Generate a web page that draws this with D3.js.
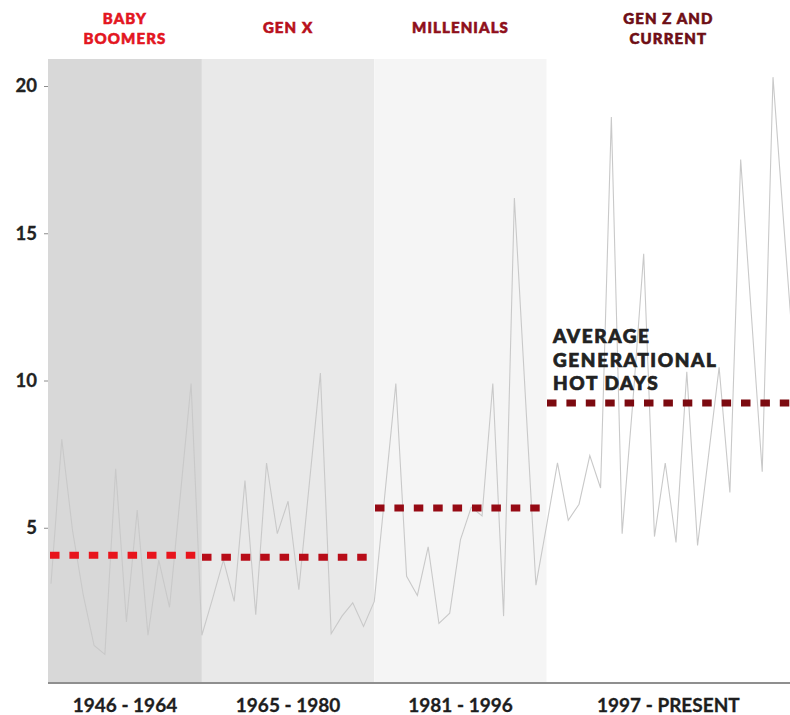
<!DOCTYPE html>
<html>
<head>
<meta charset="utf-8">
<script src="https://cdn.jsdelivr.net/npm/d3@7"></script>
<style>
  html, body { margin: 0; padding: 0; background: #fff; }
  #graph { width: 790px; height: 715px; }
  text { font-family: Lato, "Open Sans", sans-serif; }
</style>
</head>
<body>
<div id="graph"></div>
<script>
//----------------------------------------------------------
// data

// hot days per year, one value a year from 1950
var g_first_year = 1950;
var g_hot_days = [
    3.1, 8.0, 4.9, 2.7, 1.0, 0.7, 7.0, 1.8, 5.6, 1.35,
    3.9, 2.3, 6.1, 9.9, 1.35, 2.6, 3.9, 2.5, 6.6, 2.05,
    7.2, 4.8, 5.9, 2.9, 6.6, 10.25, 1.4, 2.0, 2.45, 1.65,
    2.5, 6.2, 9.9, 3.35, 2.7, 4.35, 1.75, 2.1, 4.6, 5.7,
    5.4, 9.9, 2.0, 16.2, 9.6, 3.05, 5.1, 7.2, 5.25, 5.8,
    7.45, 6.35, 18.95, 4.8, 9.3, 14.3, 4.7, 7.2, 4.5, 10.3,
    4.4, 7.4, 10.45, 6.2, 17.5, 12.2, 6.9, 20.3, 15.3, 10.4
];

// generations
var g_gen_names = [["BABY", "BOOMERS"], ["GEN X"], ["MILLENIALS"], ["GEN Z AND", "CURRENT"]];
var g_gen_ranges = ["1946 - 1964", "1965 - 1980", "1981 - 1996", "1997 - PRESENT"];
var g_gen_breaks = [1964, 1980, 1996];
var g_gen_averages = [4.07, 4.0, 5.67, 9.24];

var g_y_ticks = [5, 10, 15, 20];
var g_average_label = ["AVERAGE", "GENERATIONAL", "HOT DAYS"];

// styles
var g_band_fill = ["#d8d8d8", "#e9e9e9", "#f5f5f5", "#ffffff"];
var g_name_colour = ["#e3161f", "#b8101c", "#8f0f1b", "#6e0e15"];
var g_dash_colour = ["#e8141c", "#b80c18", "#960a14", "#7c0a10"];


//----------------------------------------------------------
var g_width = 790;
var g_height = 715;
var g_plot_left = 48;
var g_plot_top = 59;
var g_plot_bottom = 683;

var g_svg = d3.select("#graph")
  .append("svg")
    .attr("width", g_width)
    .attr("height", g_height);

var g_x = d3.scaleLinear()
    .domain([g_first_year, g_first_year + 67])
    .range([51, 773]);

var g_y = d3.scaleLinear()
    .domain([0, 20])
    .range([675, 86]);


//----------------------------------------------------------
function BandEdges() {
    var edges = [g_plot_left];
    g_gen_breaks.forEach(function (year) {
        edges.push(g_x(year));
    });
    edges.push(g_width);
    return edges;
}


function DrawBands(edges) {
    g_svg
      .append("g")
      .selectAll("rect")
      .data(g_gen_names)
      .join("rect")
        .attr("x", function (d, i) { return edges[i]; })
        .attr("y", g_plot_top)
        .attr("width", function (d, i) { return edges[i + 1] - edges[i]; })
        .attr("height", g_plot_bottom - g_plot_top)
        .attr("fill", function (d, i) { return g_band_fill[i]; });
}


function DrawNames(edges) {
    var names = g_svg
      .append("g")
      .selectAll("text")
      .data(g_gen_names)
      .join("text")
        .attr("text-anchor", "middle")
        .attr("font-size", 15)
        .attr("font-weight", 900)
        .attr("letter-spacing", 1.1)
        .attr("fill", function (d, i) { return g_name_colour[i]; })
        .attr("stroke", function (d, i) { return g_name_colour[i]; })
        .attr("stroke-width", 0.6)
        .attr("transform", function (d, i) {
            var cx = (edges[i] + edges[i + 1]) / 2;
            return "translate(" + cx + "," + (d.length > 1 ? 24 : 33) + ")";
        });

    names
      .selectAll("tspan")
      .data(function (d) { return d; })
      .join("tspan")
        .attr("x", 0)
        .attr("y", function (d, i) { return i * 20; })
        .text(function (d) { return d; });
}


function DrawAxes(edges) {
    var y_axis = d3.axisLeft(g_y)
        .tickValues(g_y_ticks)
        .tickSize(4)
        .tickPadding(7);

    var gy = g_svg
      .append("g")
        .attr("transform", "translate(" + g_plot_left + ",0)")
        .call(y_axis);

    gy.select(".domain").remove();
    gy.selectAll("line").attr("stroke", "#8c8c8c");
    gy.selectAll("text")
        .attr("font-size", 18.5)
        .attr("font-weight", 700)
        .attr("fill", "#222")
        .attr("stroke", "#222")
        .attr("stroke-width", 0.3)
        .attr("font-family", "Lato, sans-serif");

    g_svg
      .append("line")
        .attr("x1", g_plot_left)
        .attr("x2", g_width)
        .attr("y1", g_plot_bottom)
        .attr("y2", g_plot_bottom)
        .attr("stroke", "#8f8f8f")
        .attr("stroke-width", 2);

    g_svg
      .append("g")
      .selectAll("text")
      .data(g_gen_ranges)
      .join("text")
        .attr("x", function (d, i) { return (edges[i] + edges[i + 1]) / 2; })
        .attr("y", 712)
        .attr("text-anchor", "middle")
        .attr("font-size", 19)
        .attr("font-weight", 700)
        .attr("fill", "#1e1e1e")
        .attr("stroke", "#1e1e1e")
        .attr("stroke-width", 0.3)
        .text(function (d) { return d; });
}


function DrawLine() {
    var line = d3.line()
        .x(function (d, i) { return g_x(g_first_year + i); })
        .y(function (d) { return g_y(d); });

    g_svg
      .append("path")
        .datum(g_hot_days)
        .attr("d", line)
        .attr("fill", "none")
        .attr("stroke", "#c9c9c9")
        .attr("stroke-width", 1.1)
        .attr("stroke-linejoin", "miter");
}


function DrawAverages(edges) {
    var starts = [50, 202, 375, 547];
    var ends = [197, 369, 540, g_width];

    g_svg
      .append("g")
      .selectAll("line")
      .data(g_gen_averages)
      .join("line")
        .attr("x1", function (d, i) { return starts[i]; })
        .attr("x2", function (d, i) { return ends[i]; })
        .attr("y1", function (d) { return g_y(d); })
        .attr("y2", function (d) { return g_y(d); })
        .attr("stroke", function (d, i) { return g_dash_colour[i]; })
        .attr("stroke-width", 7)
        .attr("stroke-dasharray", "9.5 9.9");

    g_svg
      .append("text")
        .attr("transform", "translate(553,343)")
        .attr("font-size", 19)
        .attr("font-weight", 900)
        .attr("letter-spacing", 1.6)
        .attr("fill", "#222")
        .attr("stroke", "#222")
        .attr("stroke-width", 0.7)
      .selectAll("tspan")
      .data(g_average_label)
      .join("tspan")
        .attr("x", 0)
        .attr("y", function (d, i) { return i * 23.5; })
        .text(function (d) { return d; });
}


//----------------------------------------------------------
var g_edges = BandEdges();
DrawBands(g_edges);
DrawNames(g_edges);
DrawLine();
DrawAverages(g_edges);
DrawAxes(g_edges);
</script>
</body>
</html>
